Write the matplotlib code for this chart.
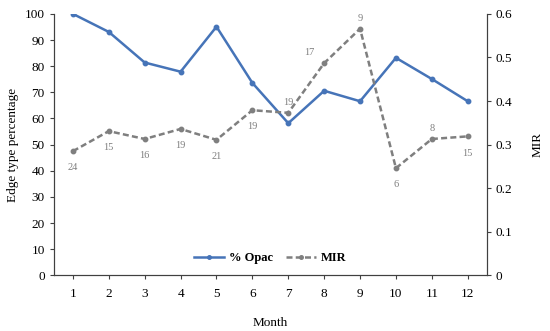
import matplotlib.pyplot as plt

plt.rcParams['font.family'] = ['Liberation Serif', 'DejaVu Serif']

# data
months = [1, 2, 3, 4, 5, 6, 7, 8, 9, 10, 11, 12]
opac = [100, 93.1, 81.4, 77.9, 95.1, 73.6, 58.2, 70.6, 66.6, 83.2, 75.1, 66.6]
mir = [0.285, 0.331, 0.313, 0.336, 0.311, 0.379, 0.373, 0.487, 0.566, 0.246, 0.313, 0.319]
mir_labels = ['24', '15', '16', '19', '21', '19', '19', '17', '9', '6', '8', '15']
# label placement: 'b' below, 'a' above, 'l' upper-left
label_pos = ['b', 'b', 'b', 'b', 'b', 'b', 'a', 'l', 'a', 'b', 'a', 'b']

blue = '#4674b8'
gray = '#7f7f7f'

fig = plt.figure(figsize=(5.5, 3.31), dpi=100)
ax = fig.add_axes([0.098, 0.168, 0.787, 0.790])
ax2 = ax.twinx()

l1, = ax.plot(months, opac, color=blue, lw=1.8, marker='o', ms=3.2, label='% Opac')
l2, = ax2.plot(months, mir, color=gray, lw=1.8, marker='o', ms=3.2, label='MIR',
               dashes=(2.4, 1.3))

offsets = {'b': (0, -12), 'a': (0, 7.5), 'l': (-11, 7.5)}
for m, v, t, p in zip(months, mir, mir_labels, label_pos):
    dx, dy = offsets[p]
    ax2.annotate(t, (m, v), xytext=(dx, dy), textcoords='offset points',
                 ha='center', va='center', fontsize=7.5, color=gray)

ax.set_xlim(0.47, 12.53)
ax.set_ylim(0, 100)
ax2.set_ylim(0, 0.6)
ax.set_xticks(months)
ax.set_yticks(range(0, 101, 10))
ax2.set_yticks([0, 0.1, 0.2, 0.3, 0.4, 0.5, 0.6])
ax2.set_yticklabels(['0', '0.1', '0.2', '0.3', '0.4', '0.5', '0.6'])

for a in (ax, ax2):
    a.spines['top'].set_visible(False)
    for s in a.spines.values():
        s.set_color('#404040')
        s.set_linewidth(0.8)
    a.tick_params(labelsize=9.5, length=3, width=0.8, color='#404040', direction='out')
ax.tick_params(axis='x', pad=6)

ax.set_xlabel('Month', fontsize=9.5, labelpad=12)
ax.set_ylabel('Edge type percentage', fontsize=9.5, labelpad=4)
ax2.set_ylabel('MIR', fontsize=9.5, labelpad=14)

leg = ax.legend(handles=[l1, l2], loc='lower center', bbox_to_anchor=(0.5, 0.0),
                ncol=2, frameon=False, fontsize=9, handlelength=2.4,
                columnspacing=1.0, handletextpad=0.4, markerscale=0.8)
for t in leg.get_texts():
    t.set_fontweight('bold')

plt.savefig('out.png', dpi=100)
